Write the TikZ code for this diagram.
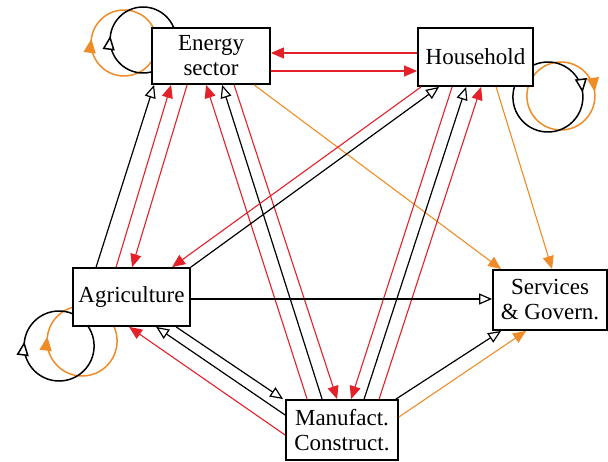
\documentclass[tikz,border=0pt]{standalone}
\usepackage{fontspec}
\setmainfont{Liberation Serif}
\usetikzlibrary{arrows.meta,calc,backgrounds,decorations.markings}
\definecolor{rd}{RGB}{228,32,40}
\definecolor{og}{RGB}{240,140,40}
\begin{document}
\begin{tikzpicture}[x=1pt,y=-1pt,
  box/.style={draw,line width=1.8pt,fill=white,inner sep=0pt,align=center,font=\fontsize{23}{25}\selectfont},
  blk/.style={line width=1.2pt,-{Triangle[open,fill=white,length=13pt,width=11pt]}},
  redl/.style={rd,line width=1.1pt,-{Triangle[length=13pt,width=11pt]}},
  orl/.style={og,line width=1.1pt,-{Triangle[length=13pt,width=11pt]}},
  loopb/.style={line width=1.5pt},
  loopo/.style={og,line width=1.5pt},
  markb/.style={postaction={decorate},decoration={markings,mark=at position #1 with {\arrow[line width=1.5pt]{Triangle[open,fill=white,length=14pt,width=12pt]}}}},
  marko/.style={postaction={decorate},decoration={markings,mark=at position #1 with {\arrow{Triangle[length=14pt,width=12pt]}}}},
]
\useasboundingbox (0,0) rectangle (608,462);

\node[box,minimum width=118pt,minimum height=56pt] (E) at (211,56) {Energy\\sector};
\node[box,minimum width=115pt,minimum height=58pt] (H) at (475.5,57) {Household};
\node[box,minimum width=117pt,minimum height=58pt] (A) at (131.5,297) {Agriculture};
\node[box,minimum width=114pt,minimum height=60pt] (S) at (550,300) {Services\\\& Govern.};
\node[box,minimum width=112pt,minimum height=60pt] (M) at (342,430) {Manufact.\\Construct.};

% self loops behind the boxes
\begin{pgfonlayer}{background}
\coordinate (eb) at ($(E.west)+(-8,-16)$);
\coordinate (eo) at ($(E.west)+(-27,-13)$);
\coordinate (hb) at ($(H.east)+(14,40)$);
\coordinate (ho) at ($(H.east)+(27,39)$);
\coordinate (ab) at ($(A.west)+(-13,49)$);
\coordinate (ao) at ($(A.west)+(10,44)$);
\draw[loopo,marko=0.52] (eo) circle[radius=33];
\draw[loopb,markb=0.52] (eb) circle[radius=33];
\draw[loopo,marko=0.98] (ho) circle[radius=34];
\draw[loopb,markb=0.98] (hb) circle[radius=35];
\draw[loopo,marko=0.52] (ao) circle[radius=35];
\draw[loopb,markb=0.52] (ab) circle[radius=35];
\end{pgfonlayer}

% Energy <-> Household
\draw[redl] ($(H.west)+(0,-4)$) -- ($(E.east)+(0,-3)$);
\draw[redl] ($(E.east)+(0,15)$) -- ($(H.west)+(0,14)$);
% Agriculture <-> Energy
\draw[blk] ($(A.north west)+(24,0)$) -- ($(E.south west)+(3,0)$);
\draw[redl] ($(A.north west)+(44,0)$) -- ($(E.south west)+(20,0)$);
\draw[redl] ($(E.south west)+(36,0)$) -- ($(A.north west)+(60,0)$);
% Manufact <-> Energy
\draw[redl] ($(M.north west)+(22,0)$) -- ($(E.south west)+(55,0)$);
\draw[blk] ($(M.north west)+(37,0)$) -- ($(E.south west)+(71,0)$);
\draw[redl] ($(E.south west)+(83,0)$) -- ($(M.north west)+(52,0)$);
% Energy -> Services
\draw[orl] ($(E.south west)+(103,0)$) -- ($(S.north west)+(9,0)$);
% Household <-> Manufact
\draw[redl] ($(H.south west)+(35,0)$) -- ($(M.north west)+(66,0)$);
\draw[blk] ($(M.north west)+(79,0)$) -- ($(H.south west)+(49,0)$);
\draw[redl] ($(M.north west)+(94,0)$) -- ($(H.south west)+(64,0)$);
% Agriculture <-> Household
\draw[blk] (A.north east) -- ($(H.south west)+(22,0)$);
\draw[redl] ($(H.south west)+(4,0)$) -- ($(A.north west)+(100,0)$);
% Household -> Services
\draw[orl] ($(H.south west)+(79,0)$) -- ($(S.north west)+(60,0)$);
% Agriculture -> Services
\draw[blk] ($(A.east)+(0,2)$) -- ($(S.west)+(0,-1)$);
% Agriculture <-> Manufact
\draw[blk] ($(A.south west)+(104,0)$) -- ($(M.north west)+(-2,0)$);
\draw[blk] ($(M.west)+(0,-15)$) -- ($(A.south west)+(84,0)$);
\draw[redl] ($(M.west)+(0,5)$) -- ($(A.south west)+(57,0)$);
% Manufact -> Services
\draw[blk] ($(M.north east)+(-3,0)$) -- ($(S.south west)+(9,0)$);
\draw[orl] ($(M.east)+(0,-13)$) -- ($(S.south west)+(34,0)$);
\end{tikzpicture}
\end{document}
